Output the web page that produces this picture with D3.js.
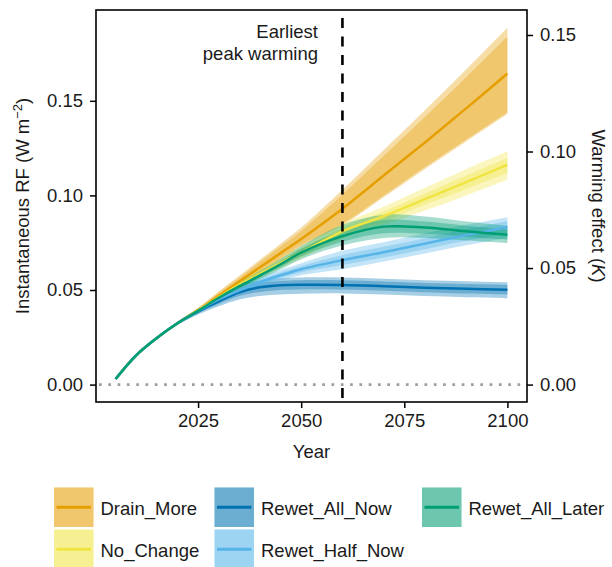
<!DOCTYPE html>
<html><head><meta charset="utf-8">
<script src="https://cdn.jsdelivr.net/npm/d3@7"></script>
<style>
html,body{margin:0;padding:0;background:#fff;}
text{font-family:"Liberation Sans",Arial,Helvetica,sans-serif;fill:#1a1a1a;}
</style></head>
<body><svg id="chart" width="612" height="567"></svg>
<script>
// ---------------- DATA ----------------
const years = [2005,2010,2015,2020,2025,2030,2035,2040,2045,2050,2060,2070,2080,2090,2100];
const scenarios = ["Drain_More","No_Change","Rewet_All_Now","Rewet_Half_Now","Rewet_All_Later"];
const colors = ["#E69F00","#F0E442","#0072B2","#56B4E9","#009E73"];

const drainMid     = [0.0030,0.0155,0.0246,0.0324,0.0394,0.0470,0.0545,0.0620,0.0695,0.0770,0.0930,0.1105,0.1280,0.1460,0.1644];
const drainInLo    = [0.0030,0.0154,0.0243,0.0318,0.0385,0.0458,0.0528,0.0598,0.0668,0.0738,0.0850,0.1000,0.1150,0.1295,0.1440];
const drainInHi    = [0.0030,0.0156,0.0248,0.0328,0.0402,0.0485,0.0565,0.0648,0.0730,0.0812,0.1005,0.1210,0.1415,0.1625,0.1840];
const drainOutLo   = [0.0030,0.0153,0.0242,0.0316,0.0382,0.0454,0.0523,0.0592,0.0661,0.0730,0.0842,0.0990,0.1140,0.1285,0.1430];
const drainOutHi   = [0.0030,0.0157,0.0250,0.0331,0.0406,0.0492,0.0575,0.0660,0.0745,0.0830,0.1030,0.1240,0.1450,0.1665,0.1886];

const noChMid      = [0.0030,0.0155,0.0246,0.0324,0.0392,0.0462,0.0528,0.0585,0.0642,0.0698,0.0810,0.0890,0.0980,0.1070,0.1162];
const noChInLo     = [0.0030,0.0154,0.0244,0.0320,0.0386,0.0454,0.0518,0.0573,0.0628,0.0682,0.0790,0.0865,0.0950,0.1033,0.1118];
const noChInHi     = [0.0030,0.0156,0.0248,0.0328,0.0398,0.0470,0.0538,0.0597,0.0656,0.0714,0.0830,0.0915,0.1010,0.1105,0.1198];
const noChOutLo    = [0.0030,0.0153,0.0242,0.0317,0.0381,0.0448,0.0511,0.0563,0.0616,0.0668,0.0770,0.0843,0.0920,0.1000,0.1083];
const noChOutHi    = [0.0030,0.0157,0.0250,0.0331,0.0403,0.0476,0.0545,0.0607,0.0668,0.0728,0.0850,0.0940,0.1040,0.1138,0.1233];

const allNowMid    = [0.0030,0.0155,0.0246,0.0324,0.0386,0.0440,0.0488,0.0514,0.0525,0.0528,0.0527,0.0520,0.0512,0.0506,0.0501];
const allNowInLo   = [0.0030,0.0154,0.0244,0.0319,0.0378,0.0426,0.0468,0.0490,0.0500,0.0503,0.0502,0.0496,0.0488,0.0481,0.0475];
const allNowInHi   = [0.0030,0.0156,0.0248,0.0329,0.0394,0.0454,0.0506,0.0536,0.0548,0.0552,0.0552,0.0545,0.0537,0.0532,0.0528];
const allNowOutLo  = [0.0030,0.0153,0.0242,0.0315,0.0370,0.0414,0.0450,0.0468,0.0476,0.0480,0.0482,0.0476,0.0468,0.0462,0.0457];
const allNowOutHi  = [0.0030,0.0157,0.0250,0.0333,0.0402,0.0466,0.0522,0.0552,0.0562,0.0566,0.0566,0.0560,0.0552,0.0546,0.0540];

const halfNowMid   = [0.0030,0.0155,0.0246,0.0324,0.0389,0.0450,0.0498,0.0542,0.0578,0.0610,0.0658,0.0700,0.0745,0.0790,0.0833];
const halfNowInLo  = [0.0030,0.0154,0.0244,0.0320,0.0383,0.0441,0.0487,0.0529,0.0563,0.0593,0.0632,0.0672,0.0716,0.0760,0.0800];
const halfNowInHi  = [0.0030,0.0156,0.0248,0.0328,0.0395,0.0459,0.0509,0.0555,0.0593,0.0627,0.0684,0.0728,0.0774,0.0820,0.0865];
const halfNowOutLo = [0.0030,0.0153,0.0242,0.0317,0.0378,0.0433,0.0477,0.0517,0.0550,0.0578,0.0610,0.0650,0.0693,0.0736,0.0776];
const halfNowOutHi = [0.0030,0.0157,0.0250,0.0331,0.0400,0.0467,0.0520,0.0567,0.0606,0.0642,0.0708,0.0753,0.0800,0.0845,0.0885];

const laterMid     = [0.0030,0.0155,0.0246,0.0324,0.0390,0.0458,0.0520,0.0577,0.0636,0.0698,0.0785,0.0835,0.0830,0.0810,0.0792];
const laterInLo    = [0.0030,0.0154,0.0244,0.0320,0.0385,0.0450,0.0510,0.0565,0.0620,0.0678,0.0755,0.0800,0.0797,0.0782,0.0766];
const laterInHi    = [0.0030,0.0156,0.0248,0.0328,0.0395,0.0466,0.0530,0.0589,0.0652,0.0718,0.0815,0.0870,0.0862,0.0840,0.0820];
const laterOutLo   = [0.0030,0.0153,0.0242,0.0317,0.0381,0.0444,0.0502,0.0555,0.0608,0.0663,0.0735,0.0775,0.0775,0.0762,0.0748];
const laterOutHi   = [0.0030,0.0157,0.0250,0.0331,0.0399,0.0472,0.0538,0.0600,0.0665,0.0733,0.0845,0.0898,0.0888,0.0862,0.0840];

const xTicks = [2025,2050,2075,2100];
const yTicksRF = [0.00,0.05,0.10,0.15];
const yTicksK = [0.00,0.05,0.10,0.15];
const peakYear = 2060;
const rfPerK = 1.232;   // RF (W m-2) per K of warming on the secondary axis

// ---------------- BUILD ----------------
const seriesRaw = [
  [drainMid, drainInLo, drainInHi, drainOutLo, drainOutHi],
  [noChMid, noChInLo, noChInHi, noChOutLo, noChOutHi],
  [allNowMid, allNowInLo, allNowInHi, allNowOutLo, allNowOutHi],
  [halfNowMid, halfNowInLo, halfNowInHi, halfNowOutLo, halfNowOutHi],
  [laterMid, laterInLo, laterInHi, laterOutLo, laterOutHi]
];
const series = scenarios.map((name,i)=>({
  name, color: colors[i],
  pts: years.map((yr,j)=>({x:yr, mid:seriesRaw[i][0][j], inLo:seriesRaw[i][1][j], inHi:seriesRaw[i][2][j], outLo:seriesRaw[i][3][j], outHi:seriesRaw[i][4][j]}))
}));

const svg = d3.select("#chart");
const L = 96, R = 527, T = 10, B = 402;
const x = d3.scaleLinear().domain([2000.25, 2104.75]).range([L, R]);
const y = d3.scaleLinear().domain([-0.0092, 0.198]).range([B, T]);
const y2 = d3.scaleLinear().domain([-0.0092/rfPerK, 0.198/rfPerK]).range([B, T]);

const curve = d3.curveCatmullRom.alpha(0.5);
const plot = svg.append("g");
plot.append("defs").append("clipPath").attr("id","clip")
  .append("rect").attr("x",L).attr("y",T).attr("width",R-L).attr("height",B-T);
const g = plot.append("g").attr("clip-path","url(#clip)");

// zero reference line
g.append("line").attr("x1",L+3).attr("x2",R).attr("y1",y(0)).attr("y2",y(0))
  .attr("stroke","#9e9e9e").attr("stroke-width",2.7).attr("stroke-dasharray","2.7,6.6");

const bandOut = d3.area().x(d=>x(d.x)).y0(d=>y(d.outLo)).y1(d=>y(d.outHi)).curve(curve);
const bandIn  = d3.area().x(d=>x(d.x)).y0(d=>y(d.inLo)).y1(d=>y(d.inHi)).curve(curve);
const lineMid = d3.line().x(d=>x(d.x)).y(d=>y(d.mid)).curve(curve);

series.forEach(s=>{
  g.append("path").datum(s.pts).attr("d",bandOut).attr("fill",s.color).attr("fill-opacity",0.35);
  g.append("path").datum(s.pts).attr("d",bandIn).attr("fill",s.color).attr("fill-opacity",0.35);
});
series.forEach(s=>{
  g.append("path").datum(s.pts).attr("d",lineMid).attr("fill","none")
    .attr("stroke",s.color).attr("stroke-width",2.5);
});

// dashed peak line
g.append("line").attr("x1",x(peakYear)).attr("x2",x(peakYear)).attr("y1",T+8).attr("y2",B)
  .attr("stroke","#000").attr("stroke-width",2.6).attr("stroke-dasharray","10,8.5");

// annotation
const ann = svg.append("text").attr("text-anchor","end").attr("font-size",18.5);
ann.append("tspan").attr("x",318).attr("y",38).text("Earliest");
ann.append("tspan").attr("x",318).attr("y",60).text("peak warming");

// panel border
svg.append("rect").attr("x",L).attr("y",T).attr("width",R-L).attr("height",B-T)
  .attr("fill","none").attr("stroke","#000").attr("stroke-width",1.6);

// axes
const fs = 18.5;
const axL = svg.append("g").attr("transform",`translate(${L},0)`)
  .call(d3.axisLeft(y).tickValues(yTicksRF).tickFormat(d3.format(".2f")).tickSize(6).tickPadding(7));
const axR = svg.append("g").attr("transform",`translate(${R},0)`)
  .call(d3.axisRight(y2).tickValues(yTicksK).tickFormat(d3.format(".2f")).tickSize(6).tickPadding(7));
const axB = svg.append("g").attr("transform",`translate(0,${B})`)
  .call(d3.axisBottom(x).tickValues(xTicks).tickFormat(d3.format("d")).tickSize(6).tickPadding(6));
[axL,axR,axB].forEach(a=>{
  a.select(".domain").remove();
  a.selectAll(".tick line").attr("stroke","#000").attr("stroke-width",1.5);
  a.selectAll(".tick text").attr("font-size",fs).attr("fill","#1a1a1a")
    .attr("font-family","Liberation Sans, Arial, sans-serif");
});

// axis titles
svg.append("text").attr("x",(L+R)/2).attr("y",458).attr("text-anchor","middle").attr("font-size",fs).text("Year");

const lt = svg.append("text").attr("transform",`translate(28.5,${(T+B)/2}) rotate(-90)`)
  .attr("text-anchor","middle").attr("font-size",fs);
lt.append("tspan").text("Instantaneous RF (W m");
lt.append("tspan").attr("font-size",13).attr("dy",-7).text("\u22122");
lt.append("tspan").attr("dy",7).text(")");

const rt = svg.append("text").attr("transform",`translate(592,${(T+B)/2}) rotate(90)`)
  .attr("text-anchor","middle").attr("font-size",fs);
rt.append("tspan").text("Warming effect (");
rt.append("tspan").attr("font-style","italic").text("K");
rt.append("tspan").text(")");

// legend
const legCols = [54, 214.5, 422];
const legRows = [487.5, 529.5];
const legOrder = [[0,0],[0,1],[1,0],[1,1],[2,0]];
series.forEach((s,i)=>{
  const [c,r] = legOrder[i];
  const gx = legCols[c], gy = legRows[r];
  const lg = svg.append("g");
  lg.append("rect").attr("x",gx).attr("y",gy).attr("width",39.5).attr("height",39.5)
    .attr("fill",s.color).attr("fill-opacity",0.35);
  lg.append("rect").attr("x",gx).attr("y",gy).attr("width",39.5).attr("height",39.5)
    .attr("fill",s.color).attr("fill-opacity",0.35);
  lg.append("line").attr("x1",gx+2.5).attr("x2",gx+37).attr("y1",gy+19.75).attr("y2",gy+19.75)
    .attr("stroke",s.color).attr("stroke-width",3);
  lg.append("text").attr("x",gx+46.5).attr("y",gy+27).attr("font-size",fs).text(s.name);
});
</script></body></html>
